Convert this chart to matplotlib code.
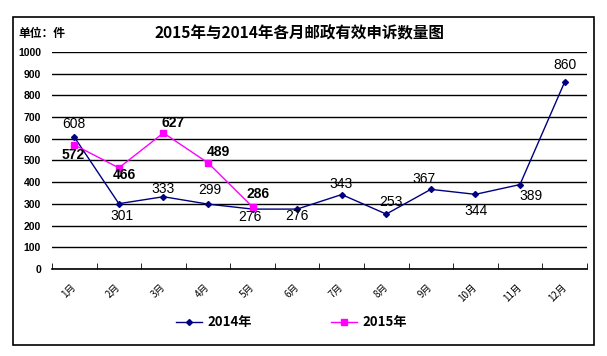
import matplotlib.pyplot as plt
from matplotlib.patches import Rectangle
import numpy as np

plt.rcParams['font.family'] = ['Noto Sans CJK SC', 'DejaVu Sans']

months = ['1月', '2月', '3月', '4月', '5月', '6月', '7月', '8月', '9月', '10月', '11月', '12月']
y2014 = [608, 301, 333, 299, 276, 276, 343, 253, 367, 344, 389, 860]
y2015 = [572, 466, 627, 489, 286]

# label offsets in pixels (dx, dy), dy positive = up
off2014 = [(0, 13), (3, -12), (0, 8), (2, 14), (-3, -8), (0, -7),
           (-1, 11), (5, 12), (-7, 10), (1, -17), (11, -11), (0, 17)]
off2015 = [(-1, -10), (6, -7), (10, 10), (10, 11), (6, 13)]

fig = plt.figure(figsize=(6.07, 3.56), dpi=100)
ax = fig.add_axes([0.0857, 0.2444, 0.881, 0.6096])

x14 = np.arange(len(y2014))
x15 = np.arange(len(y2015))
l1, = ax.plot(x14, y2014, color='#000080', lw=1, marker='D', ms=3, label='2014年')
l2, = ax.plot(x15, y2015, color='#FF00FF', lw=1, marker='s', ms=5, label='2015年')

for x, v, (dx, dy) in zip(x14, y2014, off2014):
    ax.annotate(str(v), (x, v), xytext=(dx * 0.72, dy * 0.72), textcoords='offset points',
                ha='center', va='center', fontsize=10, family='Liberation Sans')
for x, v, (dx, dy) in zip(x15, y2015, off2015):
    ax.annotate(str(v), (x, v), xytext=(dx * 0.72, dy * 0.72), textcoords='offset points',
                ha='center', va='center', fontsize=10, fontweight='bold', family='Liberation Sans')

ax.set_xlim(-0.5, 11.5)
ax.set_ylim(0, 1000)
ax.set_yticks(range(0, 1001, 100))
ax.yaxis.grid(True, color='black', lw=1)
ax.set_axisbelow(True)
for s in ['top', 'right', 'left']:
    ax.spines[s].set_visible(False)
ax.spines['bottom'].set_linewidth(1.2)
ax.tick_params(axis='y', length=0, pad=8, labelsize=7.5)
for t in ax.get_yticklabels():
    t.set_fontweight('bold')
    t.set_family('Liberation Sans')

ax.set_xticks(x14)
ax.set_xticklabels(months, rotation=45, fontsize=7, ha='right', va='center',
                   rotation_mode='anchor', family=['Noto Sans CJK SC'])
ax.set_xticks(np.arange(-0.5, 12, 1), minor=True)
ax.tick_params(axis='x', which='major', length=0, pad=12)
ax.tick_params(axis='x', which='minor', direction='in', length=4)

fig.text(0.494, 0.905, '2015年与2014年各月邮政有效申诉数量图', ha='center', va='center',
         fontsize=11.2, fontweight='bold')
fig.text(0.03, 0.905, '单位：件', ha='left', va='center', fontsize=8.5, fontweight='bold')

fig.legend(handles=[l1, l2], loc='center', bbox_to_anchor=(0.48, 0.095), ncol=2,
           frameon=False, columnspacing=6, handlelength=2.0, handletextpad=0.4,
           prop={'weight': 'bold', 'size': 9.5})

fig.patches.append(Rectangle((0.021, 0.031), 0.958, 0.921, transform=fig.transFigure,
                             fill=False, edgecolor='black', lw=1.2))

fig.savefig('out.png', dpi=100)
